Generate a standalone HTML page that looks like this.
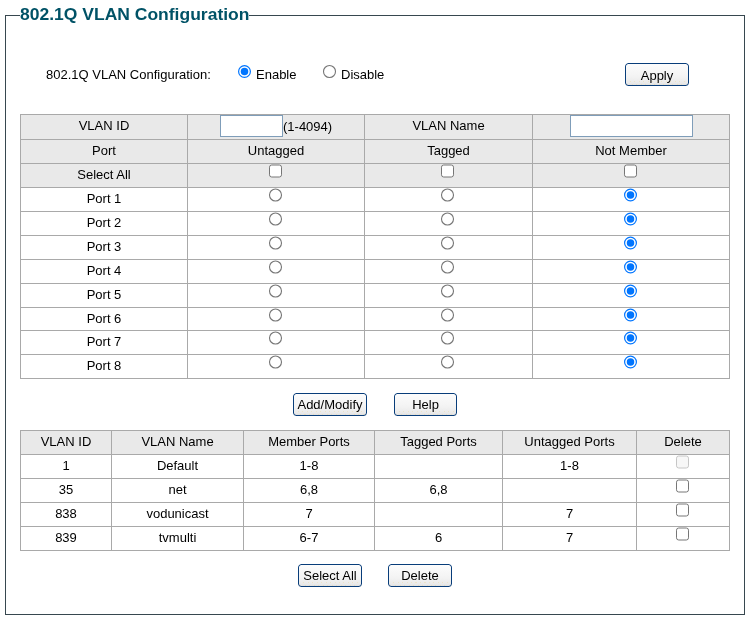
<!DOCTYPE html>
<html>
<head>
<meta charset="utf-8">
<style>
html,body{margin:0;padding:0;background:#fff;width:751px;height:621px;overflow:hidden;}
#wrap{position:absolute;left:0;top:0;width:751px;height:621px;will-change:transform;}
body{font-family:"Liberation Sans",sans-serif;font-size:13px;color:#000;position:relative;}
.fs{position:absolute;left:5px;top:15px;width:738px;height:598px;border:1px solid #37474f;}
.lg{position:absolute;left:20px;top:3px;font-size:17.5px;font-weight:bold;color:#005266;background:#fff;line-height:22px;white-space:nowrap;transform:scaleY(0.92);transform-origin:0 16.8px;}
.abs{position:absolute;white-space:nowrap;}
.ic{position:absolute;overflow:visible;z-index:2;}
.btn{position:absolute;box-sizing:border-box;height:23px;border:0;box-shadow:inset 0 0 0 1px #083d7a;border-radius:3.5px;
 background-color:#fff;background-image:linear-gradient(#fdfdfd 0%,#f3f3f3 60%,#e9e9e9 88%,#dadada 100%);font-size:13px;color:#000;text-align:center;line-height:20px;padding:3px 0 0 0;white-space:nowrap;}
.b2{padding-top:2px;}
.btn::before,.btn::after{content:"";position:absolute;left:5px;right:3px;height:1px;}
.btn::before{top:18px;background:repeating-linear-gradient(90deg,rgba(240,210,120,.3) 0 1px,transparent 1px 4.5px);}
.btn::after{top:21px;left:7px;background:repeating-linear-gradient(90deg,rgba(240,210,120,.3) 0 1px,transparent 1px 4.5px);}
table{position:absolute;border-collapse:collapse;table-layout:fixed;}
td{border:1px solid #a9a9a9;text-align:center;padding:0 0 2px 0;}
tr{height:24px;}
.g td{background:#e9e9e9;}
.r1 td{padding-bottom:4px;}
.txt{position:absolute;box-sizing:border-box;border:1px solid #7f9db9;background:#fff;height:22px;z-index:2;}
</style>
</head>
<body>
<div id="wrap">
<div class="fs"></div>
<div class="lg">802.1Q VLAN Configuration</div>

<div class="abs" style="left:46px;top:67px;">802.1Q VLAN Configuration:</div>
<svg class="ic" style="left:238px;top:65px" width="13" height="13"><circle cx="6.5" cy="6.5" r="5.9" fill="#fff" stroke="#0075ff" stroke-width="1.2"/><circle cx="6.5" cy="6.5" r="3.75" fill="#0075ff"/></svg>
<div class="abs" style="left:256px;top:67px;">Enable</div>
<svg class="ic" style="left:323px;top:65px" width="13" height="13"><circle cx="6.5" cy="6.5" r="6.0" fill="#fff" stroke="#767676" stroke-width="1.1"/></svg>
<div class="abs" style="left:341px;top:67px;">Disable</div>
<div class="btn" style="left:625px;top:63px;width:64px;">Apply</div>

<table style="left:20px;top:114px;width:709px;">
<colgroup><col style="width:167px"><col style="width:177px"><col style="width:168px"><col style="width:197px"></colgroup>
<tr class="g r1" style="height:25px"><td>VLAN ID</td><td></td><td>VLAN Name</td><td></td></tr>
<tr class="g"><td>Port</td><td>Untagged</td><td>Tagged</td><td>Not Member</td></tr>
<tr class="g"><td>Select All</td><td></td><td></td><td></td></tr>
<tr><td>Port 1</td><td></td><td></td><td></td></tr>
<tr><td>Port 2</td><td></td><td></td><td></td></tr>
<tr><td>Port 3</td><td></td><td></td><td></td></tr>
<tr><td>Port 4</td><td></td><td></td><td></td></tr>
<tr><td>Port 5</td><td></td><td></td><td></td></tr>
<tr style="height:23px"><td>Port 6</td><td></td><td></td><td></td></tr>
<tr><td>Port 7</td><td></td><td></td><td></td></tr>
<tr><td>Port 8</td><td></td><td></td><td></td></tr>
</table>
<div class="txt" style="left:220px;top:115px;width:63px;"></div>
<div class="abs" style="left:283px;top:119px;">(1-4094)</div>
<div class="txt" style="left:570px;top:115px;width:123px;"></div>

<table style="left:20px;top:430px;width:709px;">
<colgroup><col style="width:91px"><col style="width:132px"><col style="width:131px"><col style="width:128px"><col style="width:134px"><col style="width:93px"></colgroup>
<tr class="g"><td>VLAN ID</td><td>VLAN Name</td><td>Member Ports</td><td>Tagged Ports</td><td>Untagged Ports</td><td>Delete</td></tr>
<tr><td>1</td><td>Default</td><td>1-8</td><td></td><td>1-8</td><td></td></tr>
<tr><td>35</td><td>net</td><td>6,8</td><td>6,8</td><td></td><td></td></tr>
<tr><td>838</td><td>vodunicast</td><td>7</td><td></td><td>7</td><td></td></tr>
<tr><td>839</td><td>tvmulti</td><td>6-7</td><td>6</td><td>7</td><td></td></tr>
</table>

<svg class="ic" style="left:269px;top:165px" width="13" height="13"><rect x="0.5" y="0.0" width="12" height="12" rx="2.2" fill="#fff" stroke="#767676" stroke-width="1.0"/></svg>
<svg class="ic" style="left:441px;top:165px" width="13" height="13"><rect x="0.5" y="0.0" width="12" height="12" rx="2.2" fill="#fff" stroke="#767676" stroke-width="1.0"/></svg>
<svg class="ic" style="left:624px;top:165px" width="13" height="13"><rect x="0.5" y="0.0" width="12" height="12" rx="2.2" fill="#fff" stroke="#767676" stroke-width="1.0"/></svg>
<svg class="ic" style="left:269px;top:189px" width="13" height="13"><circle cx="6.5" cy="6.0" r="6.0" fill="#fff" stroke="#767676" stroke-width="1.1"/></svg>
<svg class="ic" style="left:441px;top:189px" width="13" height="13"><circle cx="6.5" cy="6.0" r="6.0" fill="#fff" stroke="#767676" stroke-width="1.1"/></svg>
<svg class="ic" style="left:624px;top:189px" width="13" height="13"><circle cx="6.5" cy="6.0" r="5.9" fill="#fff" stroke="#0075ff" stroke-width="1.2"/><circle cx="6.5" cy="6.0" r="3.75" fill="#0075ff"/></svg>
<svg class="ic" style="left:269px;top:213px" width="13" height="13"><circle cx="6.5" cy="6.0" r="6.0" fill="#fff" stroke="#767676" stroke-width="1.1"/></svg>
<svg class="ic" style="left:441px;top:213px" width="13" height="13"><circle cx="6.5" cy="6.0" r="6.0" fill="#fff" stroke="#767676" stroke-width="1.1"/></svg>
<svg class="ic" style="left:624px;top:213px" width="13" height="13"><circle cx="6.5" cy="6.0" r="5.9" fill="#fff" stroke="#0075ff" stroke-width="1.2"/><circle cx="6.5" cy="6.0" r="3.75" fill="#0075ff"/></svg>
<svg class="ic" style="left:269px;top:237px" width="13" height="13"><circle cx="6.5" cy="6.0" r="6.0" fill="#fff" stroke="#767676" stroke-width="1.1"/></svg>
<svg class="ic" style="left:441px;top:237px" width="13" height="13"><circle cx="6.5" cy="6.0" r="6.0" fill="#fff" stroke="#767676" stroke-width="1.1"/></svg>
<svg class="ic" style="left:624px;top:237px" width="13" height="13"><circle cx="6.5" cy="6.0" r="5.9" fill="#fff" stroke="#0075ff" stroke-width="1.2"/><circle cx="6.5" cy="6.0" r="3.75" fill="#0075ff"/></svg>
<svg class="ic" style="left:269px;top:261px" width="13" height="13"><circle cx="6.5" cy="6.0" r="6.0" fill="#fff" stroke="#767676" stroke-width="1.1"/></svg>
<svg class="ic" style="left:441px;top:261px" width="13" height="13"><circle cx="6.5" cy="6.0" r="6.0" fill="#fff" stroke="#767676" stroke-width="1.1"/></svg>
<svg class="ic" style="left:624px;top:261px" width="13" height="13"><circle cx="6.5" cy="6.0" r="5.9" fill="#fff" stroke="#0075ff" stroke-width="1.2"/><circle cx="6.5" cy="6.0" r="3.75" fill="#0075ff"/></svg>
<svg class="ic" style="left:269px;top:285px" width="13" height="13"><circle cx="6.5" cy="6.0" r="6.0" fill="#fff" stroke="#767676" stroke-width="1.1"/></svg>
<svg class="ic" style="left:441px;top:285px" width="13" height="13"><circle cx="6.5" cy="6.0" r="6.0" fill="#fff" stroke="#767676" stroke-width="1.1"/></svg>
<svg class="ic" style="left:624px;top:285px" width="13" height="13"><circle cx="6.5" cy="6.0" r="5.9" fill="#fff" stroke="#0075ff" stroke-width="1.2"/><circle cx="6.5" cy="6.0" r="3.75" fill="#0075ff"/></svg>
<svg class="ic" style="left:269px;top:309px" width="13" height="13"><circle cx="6.5" cy="6.0" r="6.0" fill="#fff" stroke="#767676" stroke-width="1.1"/></svg>
<svg class="ic" style="left:441px;top:309px" width="13" height="13"><circle cx="6.5" cy="6.0" r="6.0" fill="#fff" stroke="#767676" stroke-width="1.1"/></svg>
<svg class="ic" style="left:624px;top:309px" width="13" height="13"><circle cx="6.5" cy="6.0" r="5.9" fill="#fff" stroke="#0075ff" stroke-width="1.2"/><circle cx="6.5" cy="6.0" r="3.75" fill="#0075ff"/></svg>
<svg class="ic" style="left:269px;top:332px" width="13" height="13"><circle cx="6.5" cy="6.0" r="6.0" fill="#fff" stroke="#767676" stroke-width="1.1"/></svg>
<svg class="ic" style="left:441px;top:332px" width="13" height="13"><circle cx="6.5" cy="6.0" r="6.0" fill="#fff" stroke="#767676" stroke-width="1.1"/></svg>
<svg class="ic" style="left:624px;top:332px" width="13" height="13"><circle cx="6.5" cy="6.0" r="5.9" fill="#fff" stroke="#0075ff" stroke-width="1.2"/><circle cx="6.5" cy="6.0" r="3.75" fill="#0075ff"/></svg>
<svg class="ic" style="left:269px;top:356px" width="13" height="13"><circle cx="6.5" cy="6.0" r="6.0" fill="#fff" stroke="#767676" stroke-width="1.1"/></svg>
<svg class="ic" style="left:441px;top:356px" width="13" height="13"><circle cx="6.5" cy="6.0" r="6.0" fill="#fff" stroke="#767676" stroke-width="1.1"/></svg>
<svg class="ic" style="left:624px;top:356px" width="13" height="13"><circle cx="6.5" cy="6.0" r="5.9" fill="#fff" stroke="#0075ff" stroke-width="1.2"/><circle cx="6.5" cy="6.0" r="3.75" fill="#0075ff"/></svg>
<svg class="ic" style="left:676px;top:456px" width="13" height="13"><rect x="0.5" y="0.0" width="12" height="12" rx="2.2" fill="#f7f7f7" stroke="#c6c6c6" stroke-width="1.0"/></svg>
<svg class="ic" style="left:676px;top:480px" width="13" height="13"><rect x="0.5" y="0.0" width="12" height="12" rx="2.2" fill="#fff" stroke="#767676" stroke-width="1.0"/></svg>
<svg class="ic" style="left:676px;top:504px" width="13" height="13"><rect x="0.5" y="0.0" width="12" height="12" rx="2.2" fill="#fff" stroke="#767676" stroke-width="1.0"/></svg>
<svg class="ic" style="left:676px;top:528px" width="13" height="13"><rect x="0.5" y="0.0" width="12" height="12" rx="2.2" fill="#fff" stroke="#767676" stroke-width="1.0"/></svg>

<div class="btn b2" style="left:293px;top:393px;width:74px;">Add/Modify</div>
<div class="btn b2" style="left:394px;top:393px;width:63px;">Help</div>
<div class="btn b2" style="left:298px;top:564px;width:64px;">Select All</div>
<div class="btn b2" style="left:388px;top:564px;width:64px;">Delete</div>
</div>
</body>
</html>
